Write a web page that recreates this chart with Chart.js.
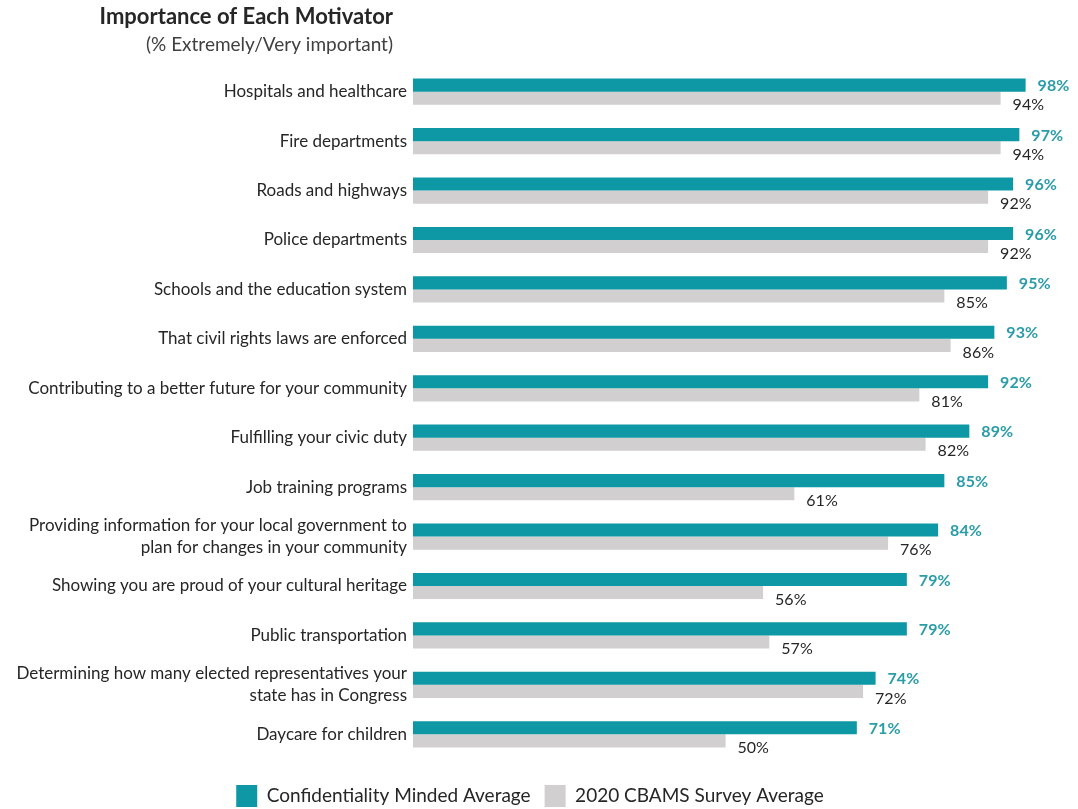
<!DOCTYPE html>
<html>
<head>
<meta charset="utf-8">
<script src="https://cdn.jsdelivr.net/npm/chart.js@4"></script>
<style>
  body { margin: 0; background: #fff; }
  #wrap { width: 1078px; height: 809px; position: relative; }
</style>
</head>
<body>
<div id="wrap"><canvas id="motivatorChart"></canvas></div>
<script>
const categories = [
  "Hospitals and healthcare",
  "Fire departments",
  "Roads and highways",
  "Police departments",
  "Schools and the education system",
  "That civil rights laws are enforced",
  "Contributing to a better future for your community",
  "Fulfilling your civic duty",
  "Job training programs",
  ["Providing information for your local government to", "plan for changes in your community"],
  "Showing you are proud of your cultural heritage",
  "Public transportation",
  ["Determining how many elected representatives your", "state has in Congress"],
  "Daycare for children"
];

const confidentialityMinded = [98, 97, 96, 96, 95, 93, 92, 89, 85, 84, 79, 79, 74, 71];
const cbamsAverage = [94, 94, 92, 92, 85, 86, 81, 82, 61, 76, 56, 57, 72, 50];

const FONT = "Lato, 'Open Sans', sans-serif";
const TEAL = "#0e97a4";
const GREY = "#d1cfcf";

// title block drawn right-aligned just left of the bars
const titlePlugin = {
  id: "sideTitle",
  afterDraw(chart) {
    const ctx = chart.ctx;
    const x = chart.chartArea.left - 20;
    ctx.save();
    ctx.textAlign = "right";
    ctx.textBaseline = "middle";
    ctx.fillStyle = "#262626";
    ctx.font = "bold 22px " + FONT;
    ctx.fillText("Importance of Each Motivator", x, 17);
    ctx.fillStyle = "#404040";
    ctx.font = "19px " + FONT;
    ctx.fillText("(% Extremely/Very important)", x, 45);
    ctx.restore();
  }
};

// percentage labels at the end of each bar
const valueLabels = {
  id: "valueLabels",
  afterDatasetsDraw(chart) {
    const ctx = chart.ctx;
    ctx.save();
    ctx.textAlign = "left";
    ctx.textBaseline = "middle";
    chart.data.datasets.forEach((ds, i) => {
      const meta = chart.getDatasetMeta(i);
      meta.data.forEach((bar, j) => {
        if (i === 0) {
          ctx.font = "bold 16px " + FONT;
          ctx.fillStyle = "#2a9ca8";
          ctx.fillText(ds.data[j] + "%", bar.x + 12, bar.y + 1);
        } else {
          ctx.font = "16px " + FONT;
          ctx.fillStyle = "#262626";
          ctx.fillText(ds.data[j] + "%", bar.x + 12, bar.y + 7);
        }
      });
    });
    ctx.restore();
  }
};

const ctx = document.getElementById("motivatorChart").getContext("2d");

new Chart(ctx, {
  type: "bar",
  data: {
    labels: categories,
    datasets: [
      {
        label: "Confidentiality Minded Average",
        data: confidentialityMinded,
        backgroundColor: TEAL,
        categoryPercentage: 0.53,
        barPercentage: 1.0
      },
      {
        label: "2020 CBAMS Survey Average",
        data: cbamsAverage,
        backgroundColor: GREY,
        categoryPercentage: 0.53,
        barPercentage: 1.0
      }
    ]
  },
  options: {
    indexAxis: "y",
    responsive: true,
    maintainAspectRatio: false,
    animation: false,
    layout: {
      padding: { top: 67, right: 18, left: 0, bottom: -8 }
    },
    plugins: {
      tooltip: { enabled: false },
      legend: {
        position: "bottom",
        labels: {
          color: "#262626",
          font: { family: FONT, size: 19 },
          boxWidth: 21,
          boxHeight: 22,
          padding: 14
        }
      }
    },
    scales: {
      x: {
        min: 0,
        max: 103.5,
        afterFit: function (scale) {
          scale.height = 12;
        },
        grid: { display: false, drawTicks: false },
        border: { display: false },
        ticks: { display: false }
      },
      y: {
        afterFit: function (scale) {
          scale.width = 413;
        },
        grid: { display: false, drawTicks: false },
        border: { display: false },
        ticks: {
          color: "#262626",
          padding: 6,
          font: { family: FONT, size: 17, lineHeight: 1.3 }
        }
      }
    }
  },
  plugins: [titlePlugin, valueLabels]
});
</script>
</body>
</html>
